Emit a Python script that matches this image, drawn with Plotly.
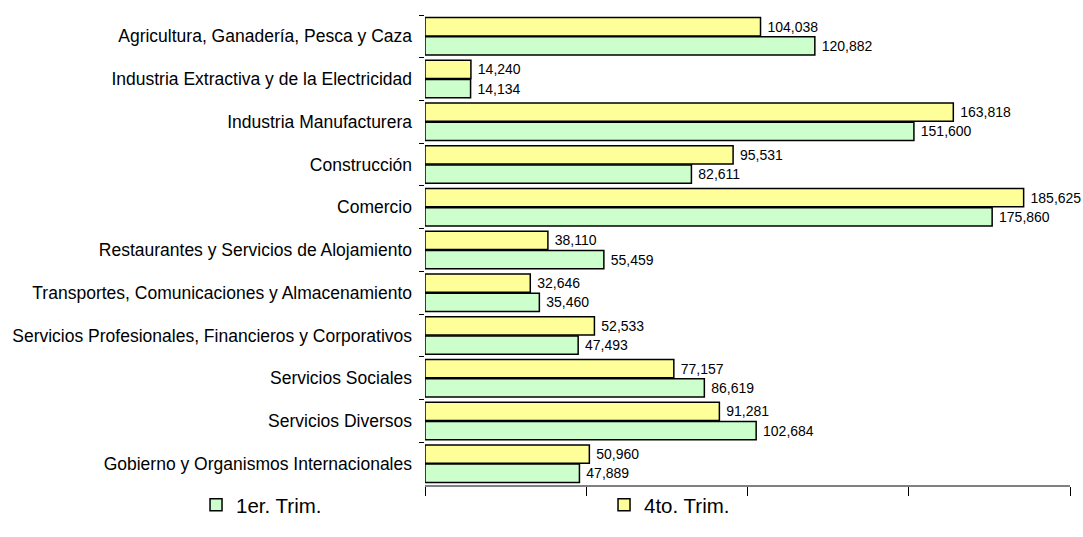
import plotly.graph_objects as go

categories = [
    "Agricultura, Ganadería, Pesca y Caza",
    "Industria Extractiva y de la Electricidad",
    "Industria Manufacturera",
    "Construcción",
    "Comercio",
    "Restaurantes y Servicios de Alojamiento",
    "Transportes, Comunicaciones y Almacenamiento",
    "Servicios Profesionales, Financieros y Corporativos",
    "Servicios Sociales",
    "Servicios Diversos",
    "Gobierno y Organismos Internacionales",
]
trim1 = [120882, 14134, 151600, 82611, 175860, 55459, 35460, 47493, 86619, 102684, 47889]
trim4 = [104038, 14240, 163818, 95531, 185625, 38110, 32646, 52533, 77157, 91281, 50960]
x_ticks = [0, 50000, 100000, 150000, 200000]

FONT = "Liberation Sans, Arial, sans-serif"

fig = go.Figure()
# 4to. Trim. first so that it sits above 1er. Trim. on the reversed category axis
fig.add_trace(go.Bar(
    y=categories, x=trim4, orientation="h", name="4to. Trim.",
    marker=dict(color="#FFFF99", line=dict(color="#000000", width=1.5)),
    texttemplate=" %{x:,}", textposition="outside", cliponaxis=False,
    constraintext="none", textfont=dict(family=FONT, size=14, color="#000000"),
    legendrank=2,
))
fig.add_trace(go.Bar(
    y=categories, x=trim1, orientation="h", name="1er. Trim.",
    marker=dict(color="#CCFFCC", line=dict(color="#000000", width=1.5)),
    texttemplate=" %{x:,}", textposition="outside", cliponaxis=False,
    constraintext="none", textfont=dict(family=FONT, size=14, color="#000000"),
    legendrank=1,
))

fig.update_layout(
    width=1083, height=537,
    margin=dict(l=422, r=13, t=15, b=47),
    paper_bgcolor="#FFFFFF", plot_bgcolor="#FFFFFF",
    barmode="group", bargap=0.1, bargroupgap=0.05,
    font=dict(family=FONT, size=17.5, color="#000000"),
    showlegend=True,
    legend=dict(
        orientation="h", x=-0.355, xanchor="left", y=0, yanchor="top",
        font=dict(family=FONT, size=20.5, color="#000000"),
        entrywidth=363, entrywidthmode="pixels",
        itemwidth=30, bgcolor="rgba(0,0,0,0)", borderwidth=0,
    ),
    separators=".,",
)
fig.update_xaxes(
    range=[0, 200000], tickvals=x_ticks, showticklabels=False,
    ticks="outside", ticklen=9, tickwidth=1, tickcolor="#000000",
    showline=True, linecolor="#808080", linewidth=2,
    showgrid=False, zeroline=False, fixedrange=True,
)
fig.update_yaxes(
    type="category", categoryorder="array", categoryarray=categories,
    autorange="reversed", tickson="boundaries", ticks="outside", ticklen=5,
    tickcolor="#000000", tickwidth=1, ticklabelstandoff=12,
    showline=False, showgrid=False, zeroline=False,
    tickfont=dict(family=FONT, size=17.5, color="#000000"),
)

fig.write_html(
    "out.html",
    config={"displayModeBar": False},
    post_script="document.body.style.margin='0';",
)
